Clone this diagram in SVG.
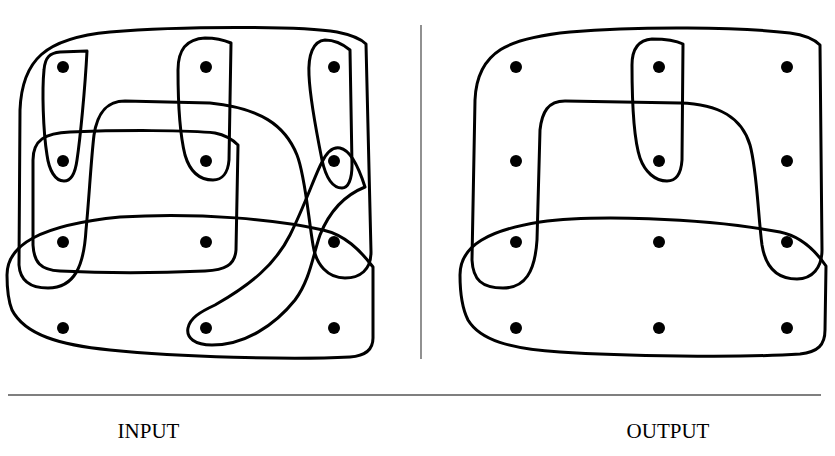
<svg xmlns="http://www.w3.org/2000/svg" width="835" height="456" viewBox="0 0 835 456">
<style>
.s{fill:none;stroke:#000;stroke-width:3;stroke-linejoin:round}
.d{fill:#000}
.rule{stroke:#555;stroke-width:1.3}
.lab{font-family:"Liberation Serif","DejaVu Serif",serif;font-size:21px;fill:#000;text-anchor:middle}
</style>
<rect width="835" height="456" fill="#fff"/>
<g id="input">
  <g id="in-outer"><path class="s" d="M 20,110 C 22,60 45,38 110,32 C 180,26 300,26 337,32 C 352,35 360,38 366,44 L 371,252 C 371,270 360,278 345,278 C 328,278 316,265 313,245 C 308,215 305,175 297,155 C 285,125 260,108 210,103 L 125,101 C 105,101 97,115 94,135 C 91,160 89,200 86,230 C 84,265 75,288 48,288 C 30,288 20,280 19,265 Z"/></g>
  <g id="in-left"><path class="s" d="M 87,51 C 85,90 80,140 77,160 C 75,175 71,181 64,181 C 55,181 49,170 47,155 C 43,130 42,90 44,70 C 45,57 50,53 60,52 Z"/></g>
  <g id="in-mid"><path class="s" d="M 231,43 L 229,160 C 228,173 222,180 213,180 C 200,180 190,172 185,155 C 180,135 178,100 178,70 C 178,50 186,39 205,38 C 215,38 224,40 231,43 Z"/></g>
  <g id="in-rect"><path class="s" d="M 238,145 L 236,250 C 235,265 225,270 205,271 C 160,273 100,273 60,271 C 40,270 34,262 33,245 L 33,160 C 33,140 45,133 70,132 C 120,130 190,130 215,133 C 225,135 232,139 238,145 Z"/></g>
  <g id="in-bottom"><path class="s" d="M 7,275 C 7,245 40,225 120,217 C 200,212 280,220 323,230 C 345,235 360,250 373,267 L 373,338 C 373,350 365,356 350,357 C 290,360 180,357 110,350 C 60,345 25,335 12,310 C 8,300 7,288 7,275 Z"/></g>
  <g id="in-right"><path class="s" d="M 350,50 L 352,165 C 352,180 348,188 342,188 C 333,188 326,178 322,160 C 316,130 310,100 309,75 C 308,55 313,41 325,40 C 335,40 344,45 350,50 Z"/></g>
  <g id="in-diag"><path class="s" d="M 365,187 C 345,195 330,210 320,235 C 313,255 310,280 295,300 C 275,325 245,345 212,345 C 195,345 186,338 188,328 C 190,318 200,312 215,305 C 250,285 275,265 290,235 C 305,205 315,175 322,162 C 328,150 335,147 340,148 C 350,150 358,165 365,187 Z"/></g>
  <g id="in-points">
    <circle class="d" cx="63" cy="67" r="6"/><circle class="d" cx="206" cy="67" r="6"/><circle class="d" cx="334" cy="67" r="6"/>
    <circle class="d" cx="63" cy="161" r="6"/><circle class="d" cx="206" cy="161" r="6"/><circle class="d" cx="334" cy="161" r="6"/>
    <circle class="d" cx="63" cy="242" r="6"/><circle class="d" cx="206" cy="242" r="6"/><circle class="d" cx="334" cy="242" r="6"/>
    <circle class="d" cx="63" cy="328" r="6"/><circle class="d" cx="206" cy="328" r="6"/><circle class="d" cx="334" cy="328" r="6"/>
  </g>
</g>
<g id="output">
  <g id="out-outer"><path class="s" d="M 475,100 C 477,50 510,38 570,32 C 640,26 740,27 790,33 C 805,35 815,40 820,45 L 822,250 C 822,268 812,279 797,279 C 780,279 766,270 762,245 C 758,215 757,170 750,145 C 742,118 720,104 680,103 L 565,101 C 548,101 542,112 540,130 L 537,240 C 535,272 525,288 503,288 C 482,288 473,280 472,260 Z"/></g>
  <g id="out-mid"><path class="s" d="M 683,44 L 682,160 C 681,175 675,181 667,181 C 655,181 645,172 640,158 C 634,140 632,110 632,65 C 632,50 638,40 652,39 C 665,39 675,40 683,44 Z"/></g>
  <g id="out-bottom"><path class="s" d="M 460,275 C 460,245 490,230 540,222 C 590,215 700,217 780,232 C 800,236 815,250 826,266 L 825,330 C 825,345 818,352 800,354 C 740,358 620,356 560,352 C 510,349 480,340 468,320 C 462,308 460,290 460,275 Z"/></g>
  <g id="out-points">
    <circle class="d" cx="516" cy="67" r="6"/><circle class="d" cx="659" cy="67" r="6"/><circle class="d" cx="787" cy="67" r="6"/>
    <circle class="d" cx="516" cy="161" r="6"/><circle class="d" cx="659" cy="161" r="6"/><circle class="d" cx="787" cy="161" r="6"/>
    <circle class="d" cx="516" cy="242" r="6"/><circle class="d" cx="659" cy="242" r="6"/><circle class="d" cx="787" cy="242" r="6"/>
    <circle class="d" cx="516" cy="328" r="6"/><circle class="d" cx="659" cy="328" r="6"/><circle class="d" cx="787" cy="328" r="6"/>
  </g>
</g>
<line class="rule" x1="421" y1="25" x2="421" y2="359"/>
<line class="rule" x1="8" y1="395" x2="821" y2="395"/>
<text class="lab" x="148.5" y="438">INPUT</text>
<text class="lab" x="668" y="438">OUTPUT</text>
</svg>
